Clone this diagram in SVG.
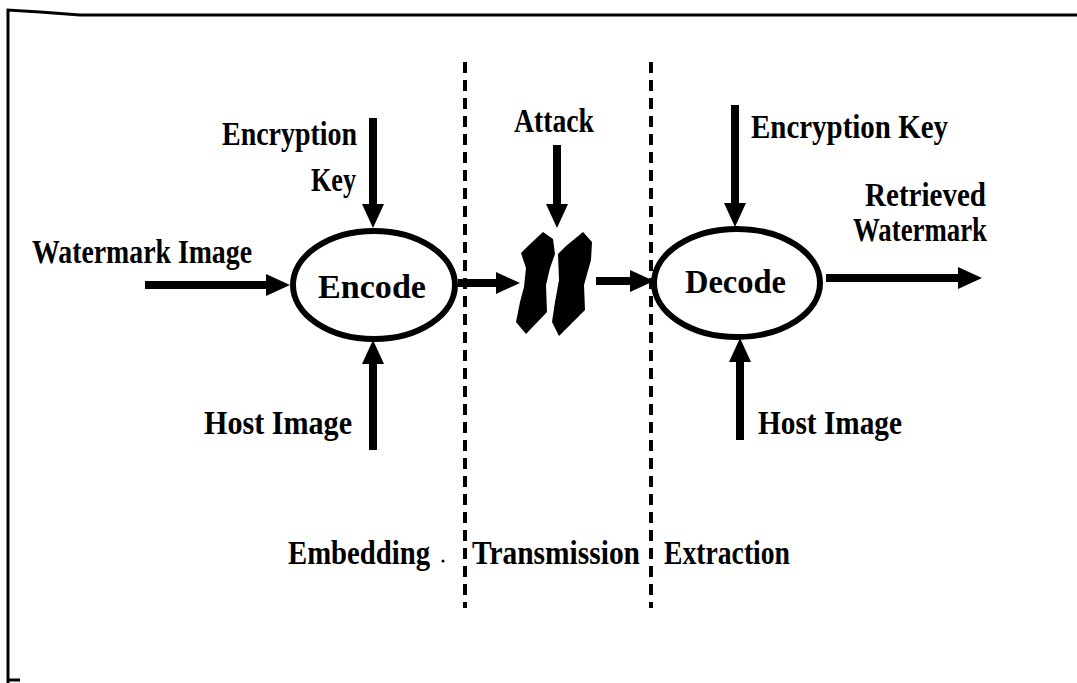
<svg xmlns="http://www.w3.org/2000/svg" width="1077" height="683" viewBox="0 0 1077 683">
  <style>
    .lbl { font-family: "Liberation Serif", "Times New Roman", serif; font-weight: bold; font-size: 33px; fill: #000; }
    .shaft { stroke: #000; stroke-width: 8; fill: none; marker-end: url(#head); }
    .node { fill: #fff; stroke: #000; stroke-width: 6; }
    .divider { stroke: #000; stroke-width: 4; stroke-dasharray: 11 7; fill: none; }
    .frame { stroke: #000; stroke-width: 3; fill: none; }
  </style>
  <defs>
    <marker id="head" markerUnits="userSpaceOnUse" viewBox="0 0 24 22" markerWidth="24" markerHeight="22" refX="6" refY="11" orient="auto">
      <path d="M0,0 L24,11 L0,22 z" fill="#000"/>
    </marker>
  </defs>

  <rect width="1077" height="683" fill="#fff"/>

  <!-- page frame -->
  <path class="frame" d="M8,683 L8,10 L40,12 L80,15 L1077,15"/>
  <path class="frame" d="M8,680 L20,680"/>

  <!-- stage dividers -->
  <g id="dividers">
    <line class="divider" x1="465" y1="62" x2="465" y2="608"/>
    <line class="divider" x1="651" y1="62" x2="651" y2="608"/>
  </g>

  <!-- connectors -->
  <g id="connectors">
    <line class="shaft" x1="145" y1="285" x2="272" y2="285"/>
    <line class="shaft" x1="373" y1="118" x2="373" y2="210"/>
    <line class="shaft" x1="373" y1="450" x2="373" y2="358"/>
    <line class="shaft" x1="458" y1="283" x2="502" y2="283"/>
    <line class="shaft" x1="557" y1="145" x2="557" y2="210"/>
    <line class="shaft" x1="596" y1="281" x2="636" y2="281"/>
    <line class="shaft" x1="735" y1="105" x2="735" y2="209"/>
    <line class="shaft" x1="740" y1="440" x2="740" y2="356"/>
    <line class="shaft" x1="826" y1="278" x2="964" y2="278"/>
  </g>

  <!-- input labels -->
  <g id="watermark-in">
    <text class="lbl" x="32" y="263" textLength="220" lengthAdjust="spacingAndGlyphs">Watermark Image</text>
  </g>
  <g id="key-in">
    <text class="lbl" x="222" y="145" textLength="135" lengthAdjust="spacingAndGlyphs">Encryption</text>
    <text class="lbl" x="311" y="191" textLength="45" lengthAdjust="spacingAndGlyphs">Key</text>
  </g>
  <g id="host-in">
    <text class="lbl" x="204" y="434" textLength="148" lengthAdjust="spacingAndGlyphs">Host Image</text>
  </g>

  <!-- encoder -->
  <g id="encode">
    <ellipse class="node" cx="374" cy="285" rx="81" ry="54"/>
    <text class="lbl" x="318" y="298" textLength="108" lengthAdjust="spacingAndGlyphs">Encode</text>
  </g>

  <!-- attack on the channel -->
  <g id="attack">
    <text class="lbl" x="514" y="132" textLength="80" lengthAdjust="spacingAndGlyphs">Attack</text>
    <path fill="#000" d="M543,232 L553,239 L555,254 L550,268 L546,285 L547,312 L526,334 L516,322 L520,302 L524,287 L526,268 L521,253 L528,246 Z"/>
    <path fill="#000" d="M583,232 L592,242 L591,260 L584,285 L585,310 L559,336 L552,322 L555,302 L559,280 L558,254 L566,246 Z"/>
  </g>

  <!-- decoder -->
  <g id="decode">
    <ellipse class="node" cx="737" cy="283" rx="83" ry="54"/>
    <text class="lbl" x="685" y="293" textLength="101" lengthAdjust="spacingAndGlyphs">Decode</text>
  </g>
  <g id="key-out">
    <text class="lbl" x="751" y="138" textLength="197" lengthAdjust="spacingAndGlyphs">Encryption Key</text>
  </g>
  <g id="host-out">
    <text class="lbl" x="758" y="434" textLength="144" lengthAdjust="spacingAndGlyphs">Host Image</text>
  </g>
  <g id="retrieved">
    <text class="lbl" x="865" y="206" textLength="121" lengthAdjust="spacingAndGlyphs">Retrieved</text>
    <text class="lbl" x="853" y="241" textLength="134" lengthAdjust="spacingAndGlyphs">Watermark</text>
  </g>

  <!-- stage names -->
  <g id="stages">
    <text class="lbl" x="288" y="564" textLength="142" lengthAdjust="spacingAndGlyphs">Embedding</text>
    <circle cx="443" cy="561" r="1.5" fill="#000"/>
    <text class="lbl" x="472" y="564" textLength="168" lengthAdjust="spacingAndGlyphs">Transmission</text>
    <text class="lbl" x="664" y="564" textLength="126" lengthAdjust="spacingAndGlyphs">Extraction</text>
  </g>
</svg>
